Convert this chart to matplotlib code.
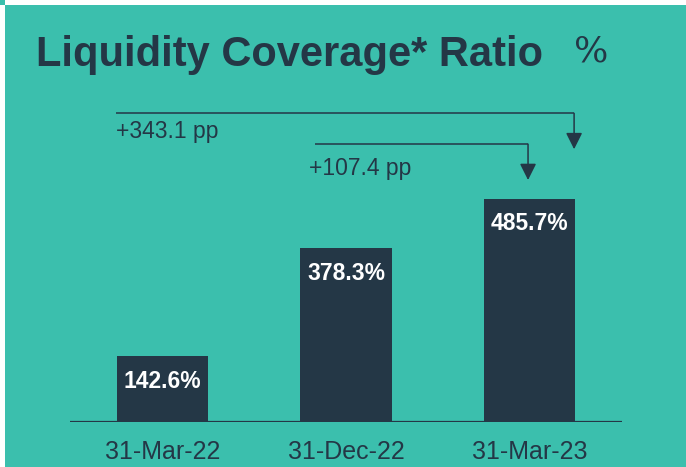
import matplotlib.pyplot as plt
from matplotlib.patches import Rectangle

# data
dates = ['31-Mar-22', '31-Dec-22', '31-Mar-23']
lcr = [142.6, 378.3, 485.7]
changes = ['+343.1 pp', '+107.4 pp']

teal = '#3bbfad'
dark = '#243746'

plt.rcParams['font.family'] = ['Liberation Sans', 'DejaVu Sans']

fig = plt.figure(figsize=(6.86, 4.67), dpi=100)
fig.patch.set_facecolor('white')

# teal panel with thin white strip at top and left
fig.patches.append(Rectangle((5/686, 0), 1, 1 - 5/467, transform=fig.transFigure,
                             facecolor=teal, edgecolor='none', zorder=-10))
fig.patches.append(Rectangle((0, 1 - 5/467), 5/686, 5/467, transform=fig.transFigure,
                             facecolor=teal, edgecolor='none', zorder=-10))

ax = fig.add_axes([70/686, 45/467, 552/686, 417/467])
ax.set_facecolor('none')
ax.set_xlim(-0.504, 2.504)
ax.set_ylim(0, 417/0.46)

x = range(len(lcr))
bars = ax.bar(x, lcr, width=0.5, color=dark, zorder=2)
for xi, v in zip(x, lcr):
    ax.text(xi, v - 55, f'{v:.1f}%', ha='center', va='center', color='white',
            fontsize=16.5, fontweight='bold')

ax.axhline(0, color=dark, lw=1.6, zorder=3)
for s in ax.spines.values():
    s.set_visible(False)
ax.set_yticks([])
ax.set_xticks(list(x))
ax.set_xticklabels(dates, fontsize=18, color=dark)
ax.tick_params(axis='x', length=0, pad=13)

# change arrows: start bar, end bar, height of the bracket line, label
arrows = [(0, 2, 671, changes[0]), (1, 2, 604, changes[1])]
for i, (b0, b1, yl, lab) in enumerate(arrows):
    x0 = b0 - 0.253 if i == 0 else b0 - 0.169
    x1 = b1 + 0.243 if i == 0 else b1 - 0.008
    ax.plot([x0, x1], [yl, yl], color=dark, lw=1.1, solid_capstyle='butt')
    ax.annotate('', xy=(x1, yl - 78), xytext=(x1, yl),
                arrowprops=dict(arrowstyle='-|>', color=dark, lw=1.1,
                                mutation_scale=25, shrinkA=0, shrinkB=0))
    lx = x0 if i == 0 else x0 - 0.033
    ly = yl - 54 if i == 0 else yl - 67
    ax.text(lx, ly, lab, ha='left', va='baseline', color=dark, fontsize=16.5)

fig.text(36/686, 1 - 66/467, 'Liquidity Coverage* Ratio', fontsize=30, fontweight='bold',
         color=dark, ha='left', va='baseline')
fig.text(574/686, 1 - 62/467, '%', fontsize=26, color=dark, ha='left', va='baseline',
         family='DejaVu Serif')

fig.savefig('out.png', dpi=100, facecolor=fig.get_facecolor())
